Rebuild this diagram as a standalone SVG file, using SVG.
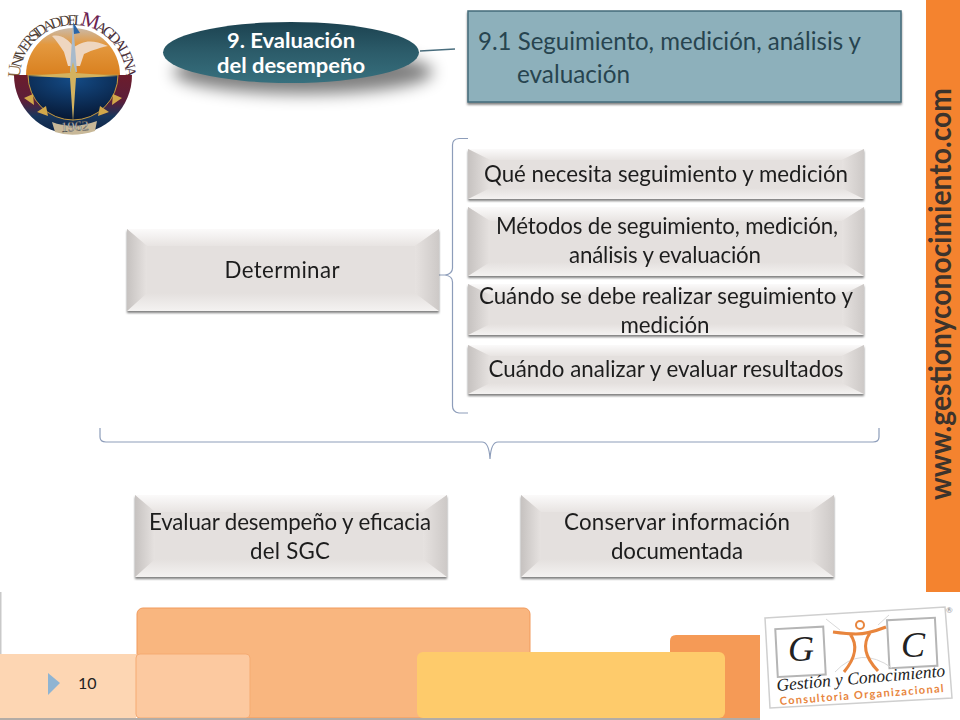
<svg xmlns="http://www.w3.org/2000/svg" width="960" height="720" viewBox="0 0 960 720">
<style>
.t{font-family:"Lato","Open Sans",sans-serif;font-size:22.300px;fill:#1f1f1f;text-anchor:middle}
.face{fill:#e4e0de}
.bt{fill:url(#gt)}.bb{fill:url(#gb)}.bl{fill:url(#gl)}.br{fill:url(#gr)}
.br2{fill:none;stroke:#8d9dba;stroke-width:1.2}
</style>
<defs>
<filter id="sh" x="-5%" y="-10%" width="110%" height="125%"><feDropShadow dx="0" dy="2" stdDeviation="1.3" flood-color="#000" flood-opacity=".5"/></filter>
<filter id="blur" x="-20%" y="-50%" width="140%" height="200%"><feGaussianBlur stdDeviation="8"/></filter>
<linearGradient id="gt" x1="0" y1="0" x2="0" y2="1"><stop offset="0" stop-color="#fbfafa"/><stop offset="1" stop-color="#e8e4e2"/></linearGradient>
<linearGradient id="gb" x1="0" y1="0" x2="0" y2="1"><stop offset="0" stop-color="#e4e0de"/><stop offset="1" stop-color="#f4f2f1"/></linearGradient>
<linearGradient id="gl" x1="0" y1="0" x2="1" y2="0"><stop offset="0" stop-color="#c6c2c0"/><stop offset="1" stop-color="#e6e2e0"/></linearGradient>
<linearGradient id="gr" x1="1" y1="0" x2="0" y2="0"><stop offset="0" stop-color="#cdc9c7"/><stop offset="1" stop-color="#e6e2e0"/></linearGradient>
<linearGradient id="teal" x1="0" y1="0" x2="0" y2="1"><stop offset="0" stop-color="#1c4250"/><stop offset=".5" stop-color="#2c5c6a"/><stop offset="1" stop-color="#37707e"/></linearGradient>
<linearGradient id="sky" x1="0" y1="0" x2="0" y2="1"><stop offset="0" stop-color="#c9b9a8"/><stop offset=".35" stop-color="#e4993f"/><stop offset="1" stop-color="#d9801f"/></linearGradient>
<radialGradient id="navy" cx=".5" cy=".1" r=".9"><stop offset="0" stop-color="#144b86"/><stop offset="1" stop-color="#061733"/></radialGradient>
<linearGradient id="ring" x1="0" y1="0" x2="0" y2="1"><stop offset="0" stop-color="#6c1c2c"/><stop offset=".45" stop-color="#5a1f3a"/><stop offset=".7" stop-color="#17365c"/><stop offset="1" stop-color="#0c2244"/></linearGradient>
<path id="arc" d="M20 78A53 53 0 0 1 126 78"/>
</defs>
<rect width="960" height="720" fill="#fff"/>

<g id="footer">
<rect x="0" y="592" width="1.5" height="62" fill="#c9c9c9"/>
<rect x="137" y="608" width="393" height="110" rx="6" fill="#f9b67f" stroke="#f19a5c" stroke-width="1"/>
<path d="M670 718V641Q670 635 676 635H760V718Z" fill="#f59a56"/>
<rect x="0" y="654" width="136" height="64" fill="#fdd6b3"/>
<rect x="136" y="654" width="114" height="64" rx="4" fill="#fcc9a0" stroke="#f5ab73" stroke-width="1"/>
<rect x="417" y="652" width="308" height="66" rx="6" fill="#fecb6b"/>
<rect x="0" y="718" width="760" height="2" fill="#b3aca6"/>
<polygon points="48,673 60,683 48,695" fill="#8fb4d2"/>
<text x="78" y="689" font-family="Lato,sans-serif" font-size="16" fill="#222">10</text>
</g>

<g id="logo-universidad">
<text font-family="Liberation Serif,serif" font-size="15" letter-spacing="-3.200" fill="#4f4036"><textPath href="#arc"><tspan font-size="18" fill="#8a6a45">U</tspan>NIVERSIDAD DEL <tspan font-size="21" fill="#6b2350">M</tspan><tspan fill="#4a2f3a">AGDALENA</tspan></textPath></text>
<path d="M26 75A47 47 0 0 1 120 75Z" fill="url(#sky)"/>
<path d="M14 75H132A59 59 0 0 1 14 75Z" fill="url(#ring)"/>
<path d="M28 75H118A45 45 0 0 1 28 75Z" fill="url(#navy)" stroke="#c69a3e" stroke-width="1"/>
<path d="M24 98L33 94 34 105ZM37 112L46 106 48 116ZM122 98L113 94 112 105ZM109 112L100 106 98 116Z" fill="#d2a84a"/>
<path d="M52 36C62 34 68 40 74 47C82 42 90 38 108 46C98 48 88 52 84 54L80 66 68 66 64 52C60 46 56 40 52 36Z" fill="#eed6c0"/>
<polygon points="73,22 77,72 70,72" fill="#a8bacb"/>
<polygon points="73,22 80,33 74,34" fill="#2a66a8"/>
<polygon points="73,62 76,73 118,76 76,78 73,122 70,78 28,76 70,73" fill="#d3b25f"/>
<path d="M52 122Q73 130 97 121L95 131Q73 138 55 132Z" fill="#c8b898"/>
<text x="75" y="131" font-family="Liberation Serif,serif" font-size="14" fill="#f2efe8" stroke="#3a3a3a" stroke-width=".4" text-anchor="middle" transform="rotate(-4 75 131)">1962</text>
</g>

<g id="sidebar">
<rect x="926" y="0" width="34" height="592" fill="#f4832f"/>
<text transform="translate(951 500) rotate(-90)" font-family="Lato,sans-serif" font-weight="700" font-size="31" fill="#3c332c" textLength="412" lengthAdjust="spacingAndGlyphs">www.gestionyconocimiento.com</text>
</g>

<g id="connectors">
<path d="M420 51L455 49" stroke="#4a6e7e" stroke-width="1.3" fill="none"/>
<path class="br2" d="M468 138.500H459Q452.500 139 452.500 145V268Q452.500 274 445 275H436M445 275Q452.500 276 452.500 282V406Q452.500 412 459 413H468"/>
<path class="br2" d="M100 428V437Q100 442 106 442H482Q489 442 490 459Q491 442 498 442H873Q879 442 879 437V428"/>
</g>

<g id="node-evaluacion">
<ellipse cx="303" cy="72" rx="130" ry="22" fill="#000" opacity=".5" filter="url(#blur)"/>
<ellipse cx="291" cy="52.500" rx="128" ry="30.500" fill="url(#teal)"/>
<text x="291" y="48" font-family="Lato,sans-serif" font-weight="700" font-size="21" fill="#fff" text-anchor="middle" textLength="128" lengthAdjust="spacingAndGlyphs">9. Evaluación</text>
<text x="291" y="73" font-family="Lato,sans-serif" font-weight="700" font-size="21" fill="#fff" text-anchor="middle" textLength="148" lengthAdjust="spacingAndGlyphs">del desempeño</text>
</g>

<g id="node-91">
<rect x="468" y="11" width="433" height="91" fill="#8db0bb" stroke="#456b7b" stroke-width="1.5" filter="url(#sh)"/>
<text x="478" y="50" font-family="Lato,sans-serif" font-size="25" fill="#27444f" textLength="383" lengthAdjust="spacingAndGlyphs">9.1 Seguimiento, medición, análisis y</text>
<text x="517" y="83" font-family="Lato,sans-serif" font-size="25" fill="#27444f" textLength="113" lengthAdjust="spacingAndGlyphs">evaluación</text>
</g>

<g id="node-determinar" filter="url(#sh)">
<rect class="face" x="127" y="229" width="312" height="82"/>
<polygon class="bt" points="127,229 439,229 415,246 147,246"/>
<polygon class="bb" points="147,293 415,293 439,311 127,311"/>
<polygon class="bl" points="127,229 147,246 147,293 127,311"/>
<polygon class="br" points="439,229 415,246 415,293 439,311"/>
<text class="t" x="282" y="278" textLength="115">Determinar</text>
</g>

<g id="node-que" filter="url(#sh)">
<rect class="face" x="468" y="149" width="396" height="50"/>
<polygon class="bt" points="468,149 864,149 842,160 490,160"/>
<polygon class="bb" points="490,188 842,188 864,199 468,199"/>
<polygon class="bl" points="468,149 490,160 490,188 468,199"/>
<polygon class="br" points="864,149 842,160 842,188 864,199"/>
<text class="t" x="666" y="182" textLength="364">Qué necesita seguimiento y medición</text>
</g>

<g id="node-metodos" filter="url(#sh)">
<rect class="face" x="468" y="207" width="396" height="69"/>
<polygon class="bt" points="468,207 864,207 842,221 490,221"/>
<polygon class="bb" points="490,262 842,262 864,276 468,276"/>
<polygon class="bl" points="468,207 490,221 490,262 468,276"/>
<polygon class="br" points="864,207 842,221 842,262 864,276"/>
<text class="t" x="667" y="234" textLength="342">Métodos de seguimiento, medición,</text>
<text class="t" x="665" y="263" textLength="192">análisis y evaluación</text>
</g>

<g id="node-cuando-seguimiento" filter="url(#sh)">
<rect class="face" x="468" y="284" width="396" height="51"/>
<polygon class="bt" points="468,284 864,284 842,295 490,295"/>
<polygon class="bb" points="490,324 842,324 864,335 468,335"/>
<polygon class="bl" points="468,284 490,295 490,324 468,335"/>
<polygon class="br" points="864,284 842,295 842,324 864,335"/>
<text class="t" x="666" y="304" textLength="374">Cuándo se debe realizar seguimiento y</text>
<text class="t" x="665" y="333" textLength="89">medición</text>
</g>

<g id="node-cuando-analizar" filter="url(#sh)">
<rect class="face" x="468" y="345" width="396" height="49"/>
<polygon class="bt" points="468,345 864,345 842,356 490,356"/>
<polygon class="bb" points="490,383 842,383 864,394 468,394"/>
<polygon class="bl" points="468,345 490,356 490,383 468,394"/>
<polygon class="br" points="864,345 842,356 842,383 864,394"/>
<text class="t" x="666" y="377" textLength="355">Cuándo analizar y evaluar resultados</text>
</g>

<g id="node-evaluar" filter="url(#sh)">
<rect class="face" x="135" y="495" width="312" height="82"/>
<polygon class="bt" points="135,495 447,495 423,512 155,512"/>
<polygon class="bb" points="155,559 423,559 447,577 135,577"/>
<polygon class="bl" points="135,495 155,512 155,559 135,577"/>
<polygon class="br" points="447,495 423,512 423,559 447,577"/>
<text class="t" x="290" y="530" textLength="282">Evaluar desempeño y eficacia</text>
<text class="t" x="290" y="559" textLength="80">del SGC</text>
</g>

<g id="node-conservar" filter="url(#sh)">
<rect class="face" x="521" y="495" width="313" height="82"/>
<polygon class="bt" points="521,495 834,495 810,512 541,512"/>
<polygon class="bb" points="541,559 810,559 834,577 521,577"/>
<polygon class="bl" points="521,495 541,512 541,559 521,577"/>
<polygon class="br" points="834,495 810,512 810,559 834,577"/>
<text class="t" x="677" y="530" textLength="226">Conservar información</text>
<text class="t" x="677" y="559" textLength="132">documentada</text>
</g>

<g id="logo-gc">
<polygon points="765,618 945,607 952,698 770,708" fill="#fff" stroke="#cfcfcf" stroke-width="1.500"/>
<g transform="rotate(-3 855 660)">
<rect x="777" y="625" width="48" height="48" fill="#fff" stroke="#b5b5b5" stroke-width="2"/>
<rect x="889" y="622" width="48" height="48" fill="#fff" stroke="#b5b5b5" stroke-width="2"/>
</g>
<text x="801" y="661" font-family="Liberation Serif,serif" font-style="italic" font-size="36" fill="#222" text-anchor="middle">G</text>
<text x="913" y="657" font-family="Liberation Serif,serif" font-style="italic" font-size="36" fill="#222" text-anchor="middle">C</text>
<path d="M826 619L840 630M889 615L878 625M835 672Q860 645 892 668" fill="none" stroke="#d9d9d9" stroke-width="1"/>
<circle cx="860" cy="625" r="4" fill="none" stroke="#e8853d" stroke-width="2"/>
<path d="M833 632Q848 634 856 634Q868 634 886 627M850 634Q862 650 844 672M870 633Q858 650 878 671" fill="none" stroke="#e8853d" stroke-width="3"/>
<text transform="translate(777 691) rotate(-5)" font-family="Liberation Serif,serif" font-style="italic" font-size="17.500" fill="#222">Gestión y Conocimiento</text>
<text transform="translate(780 705) rotate(-4.500)" font-family="Lato,sans-serif" font-weight="700" font-size="11" letter-spacing="1.300" fill="#e8853d">Consultoria Organizacional</text>
<text x="946" y="613" font-family="Lato,sans-serif" font-size="8" fill="#888">®</text>
</g>
</svg>
